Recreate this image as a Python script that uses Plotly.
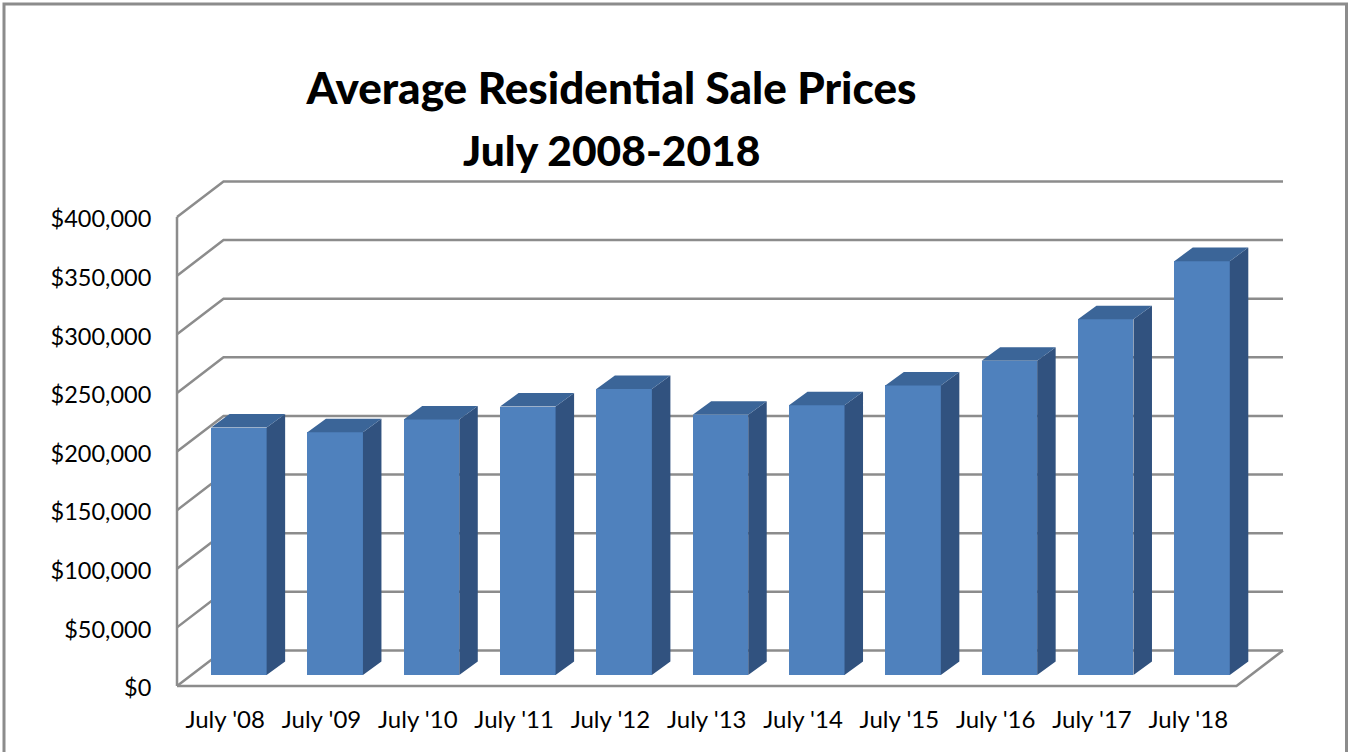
import plotly.graph_objects as go

# ---- data ----
categories = ["July '08", "July '09", "July '10", "July '11", "July '12", "July '13",
              "July '14", "July '15", "July '16", "July '17", "July '18"]
prices = [211000, 207000, 218000, 229000, 244000, 222000, 230000, 247000, 268000, 303500, 353000]
y_ticks = [0, 50000, 100000, 150000, 200000, 250000, 300000, 350000, 400000]
y_labels = ["$0", "$50,000", "$100,000", "$150,000", "$200,000", "$250,000", "$300,000", "$350,000", "$400,000"]
title_lines = ["Average Residential Sale Prices", "July 2008-2018"]

# ---- pseudo-3D geometry, in axis units ----
X_UNIT_PX = 96.27
Y_UNIT_PX = 400000 / 468.5
WALL_DX, WALL_DY = 46.5 / X_UNIT_PX, 35.5 * Y_UNIT_PX
BAR_SHIFT_X, BAR_BASE = 13.7 / X_UNIT_PX, 11 * Y_UNIT_PX
BAR_W = 55.5 / X_UNIT_PX
BAR_DX, BAR_DY = 18.5 / X_UNIT_PX, 13.5 * Y_UNIT_PX
X0, X1 = -0.5, len(categories) - 0.5
PAD = 4  # px of room round the 3D box so its lines are not clipped

GRID = "#8c8c8c"
FRONT, SIDE, TOP = "#4f81bd", "#31527f", "#3b6598"
FONT = "Lato"

grid_x, grid_y = [], []
for v in y_ticks:
    grid_x += [X0, X0 + WALL_DX, X1 + WALL_DX, None]
    grid_y += [v, v + WALL_DY, v + WALL_DY, None]

frame_x = [X0, X0, None, X0, X1, X1 + WALL_DX, None]
frame_y = [y_ticks[-1], 0, None, 0, 0, WALL_DY, None]

side_x, side_y, top_x, top_y = [], [], [], []
xs = [i + BAR_SHIFT_X for i in range(len(categories))]
for x, p in zip(xs, prices):
    l, r = x - BAR_W / 2, x + BAR_W / 2
    b, t = BAR_BASE, BAR_BASE + p
    side_x += [r, r + BAR_DX, r + BAR_DX, r, r, None]
    side_y += [b, b + BAR_DY, t + BAR_DY, t, b, None]
    top_x += [l, l + BAR_DX, r + BAR_DX, r, l, None]
    top_y += [t, t + BAR_DY, t + BAR_DY, t, t, None]

fig = go.Figure()
line = dict(color=GRID, width=2.5)
fig.add_trace(go.Scatter(x=grid_x, y=grid_y, mode="lines", line=line, cliponaxis=False, zorder=-1, hoverinfo="skip"))
fig.add_trace(go.Scatter(x=frame_x, y=frame_y, mode="lines", line=line, cliponaxis=False, zorder=-1, hoverinfo="skip"))
fig.add_trace(go.Bar(x=xs, y=prices, base=BAR_BASE, width=BAR_W, marker=dict(color=FRONT, line=dict(width=0)),
                     customdata=categories, hovertemplate="%{customdata}: $%{y:,}<extra></extra>", zorder=0))
fig.add_trace(go.Scatter(x=side_x, y=side_y, mode="lines", fill="toself", fillcolor=SIDE, line=dict(width=0),
                         hoverinfo="skip", zorder=1))
fig.add_trace(go.Scatter(x=top_x, y=top_y, mode="lines", fill="toself", fillcolor=TOP, line=dict(width=0),
                         hoverinfo="skip", zorder=1))

ML, MR, MT, MB = 177 - PAD, 70 - PAD, 182 - PAD, 66 - PAD
W, H = 1353, 752
pw, ph = W - ML - MR, H - MT - MB

def px(x):
    return (x - ML) / pw

def py(y):
    return 1 - (y - MT) / ph

fig.update_layout(
    width=W, height=H, autosize=False,
    margin=dict(l=ML, r=MR, t=MT, b=MB, pad=0),
    paper_bgcolor="white", plot_bgcolor="white",
    showlegend=False, bargap=0,
    font=dict(family=FONT, color="black", size=22),
    title=dict(text=title_lines[0], font=dict(family=FONT, size=44, color="black", weight=900),
               x=611.5 / W, xanchor="center", y=1 - 89 / H, yanchor="middle"),
    annotations=[dict(text=title_lines[1], xref="paper", yref="paper", x=px(611), y=py(149),
                      xanchor="center", yanchor="middle", showarrow=False,
                      font=dict(family=FONT, size=42.5, color="black", weight=900))],
    shapes=[dict(type="path", xref="paper", yref="paper",
                 path=f"M {px(4)} {py(760)} L {px(4)} {py(4)} L {px(1346.5)} {py(4)} L {px(1346.5)} {py(760)}",
                 line=dict(color=GRID, width=3), layer="above")],
    xaxis=dict(range=[X0 - PAD / X_UNIT_PX, X1 + WALL_DX + PAD / X_UNIT_PX],
               tickvals=list(range(len(categories))), ticktext=categories,
               showgrid=False, zeroline=False, showline=False, ticks="outside", ticklen=8, tickcolor="rgba(0,0,0,0)",
               tickfont=dict(family=FONT, size=24, color="black"), tickangle=0, fixedrange=True),
    yaxis=dict(range=[-PAD * Y_UNIT_PX, (503.5 + PAD) * Y_UNIT_PX], tickvals=y_ticks, ticktext=y_labels,
               showgrid=False, zeroline=False, showline=False, ticks="outside", ticklen=16, tickcolor="rgba(0,0,0,0)",
               ticklabelshift=2,
               tickfont=dict(family=FONT, size=23.5, color="black"), fixedrange=True),
)

fig.write_html("out.html", config=dict(displayModeBar=False),
               post_script="document.body.style.margin='0';document.documentElement.style.overflow='hidden';")
